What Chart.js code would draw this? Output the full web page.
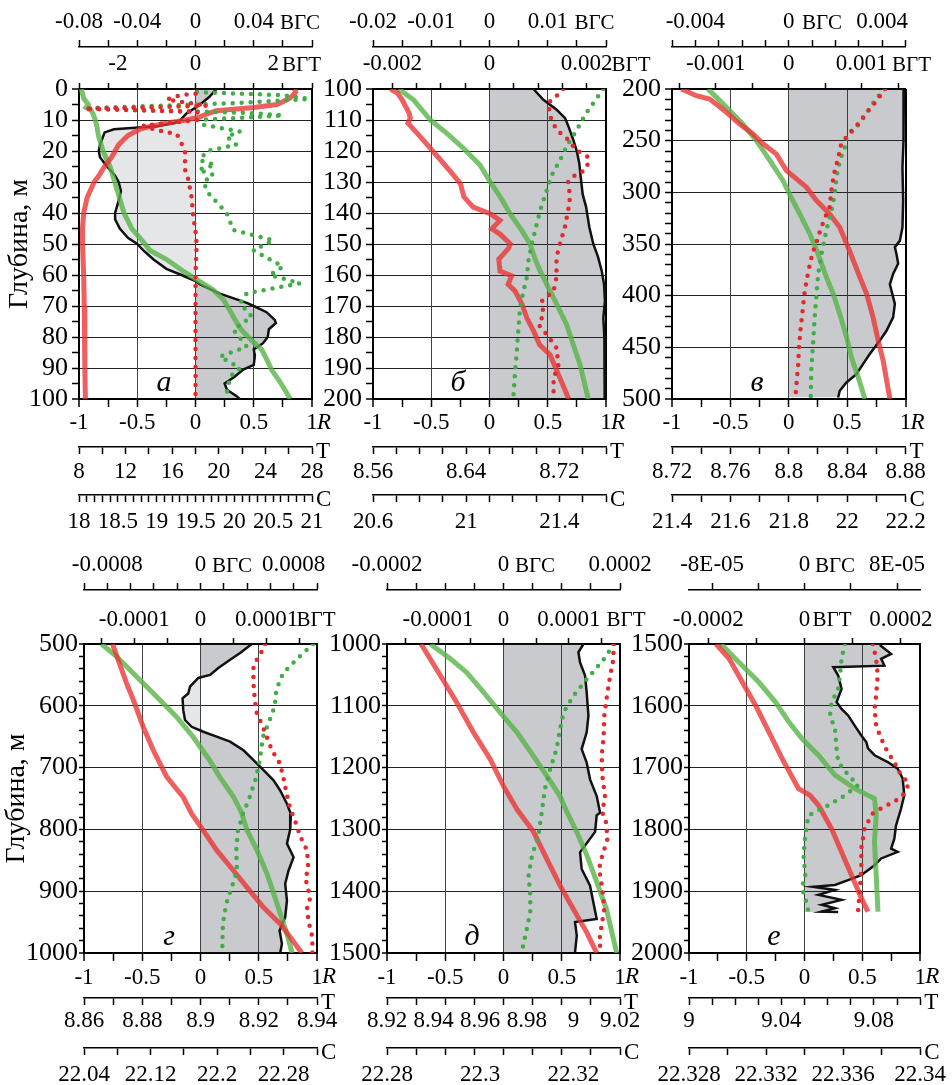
<!DOCTYPE html>
<html>
<head>
<meta charset="utf-8">
<script src="https://cdn.jsdelivr.net/npm/chart.js@4.4.0/dist/chart.umd.min.js"></script>
<style>
  body { margin: 0; background: #fff; }
  #wrap { position: relative; width: 952px; height: 1085px; }
  canvas { position: absolute; left: 0; }
</style>
</head>
<body>
<div id="wrap">
  <canvas id="pa" width="952" height="540" style="top:0"></canvas>
  <canvas id="pb" width="952" height="540" style="top:0"></canvas>
  <canvas id="pv" width="952" height="540" style="top:0"></canvas>
  <canvas id="pg" width="952" height="545" style="top:540px"></canvas>
  <canvas id="pd" width="952" height="545" style="top:540px"></canvas>
  <canvas id="pe" width="952" height="545" style="top:540px"></canvas>
</div>
<script>
// R axis (shared)
const rMarks = [-1, 1, 0.25];
const rLabels = ['-1', '-0.5', '0', '0.5', '1'];

// ---- panel а : 0-100 m, series are [depth, value]
const aDepth = [0, 100, 5, 10];
const aCorr = [[0,0.18],[2.5,0.12],[5,0.04],[8,-0.08],[10,-0.13],[11,-0.18],[12,-0.33],[13,-0.7],[14,-0.78],[16,-0.8],[18,-0.82],[20,-0.83],[22,-0.82],[25,-0.76],[28,-0.69],[30,-0.66],[33,-0.64],[36,-0.66],[40,-0.69],[42,-0.69],[45,-0.65],[48,-0.58],[50,-0.5],[52,-0.45],[55,-0.36],[58,-0.25],[60,-0.12],[62,0],[63,0.04],[66,0.21],[69,0.44],[70,0.5],[72,0.61],[74.5,0.68],[75.5,0.69],[77.5,0.63],[80,0.62],[82,0.58],[84,0.5],[86,0.51],[89,0.5],[90.5,0.41],[93,0.33],[95,0.25],[97,0.27],[99,0.35],[100,0.38]];
const aTemp = [[0,26.5],[1,26.6],[3,26.1],[5,25.0],[6,23.0],[7,19.8],[8,19.0],[9,18.4],[10,17.2],[11,15.5],[12,14.2],[13,13.2],[15,12.2],[18,11.4],[20,11.1],[22,10.8],[25,10.2],[28,9.7],[30,9.3],[35,8.7],[40,8.4],[45,8.3],[50,8.3],[60,8.4],[70,8.45],[80,8.5],[90,8.5],[100,8.55]];
const aSalt = [[0,18.03],[3,18.06],[5,18.12],[6,18.09],[7,18.16],[8,18.18],[10,18.21],[12,18.23],[15,18.25],[20,18.31],[25,18.4],[30,18.46],[35,18.52],[40,18.58],[45,18.68],[50,18.85],[52,18.91],[55,19.13],[58.4,19.32],[61.6,19.52],[64.8,19.73],[68,19.86],[71.3,19.94],[74.5,20.01],[77.7,20.09],[81,20.22],[84,20.35],[87.4,20.42],[90.6,20.48],[93.8,20.57],[97,20.65],[100,20.72]];
const aVGT = [[1.5,0],[2,-0.4],[3.4,-0.74],[5.4,0.3],[6,-1.5],[6.4,-2.85],[6.9,-1.5],[7.4,0.05],[8.5,0],[10,0.05],[11.8,-1.34],[12.5,-1.2],[13.5,-0.9],[14.6,-0.48],[16.5,-0.4],[20,-0.27],[26,-0.27],[29,-0.19],[35,-0.1],[41,-0.06],[46,0],[50,0.03],[60,0],[100,0]];
const aVGS = [[1,0.001],[2,0.06],[3.2,0.078],[4.5,0.03],[5.5,-0.03],[6.2,-0.076],[7,-0.02],[7.8,0.04],[8.5,0.06],[9.3,0.03],[10,0.001],[11.5,0.005],[13.7,0.0306],[15.3,0.0214],[18,0.028],[20,0.0077],[23,0.003],[24.5,0.0134],[26,0.002],[27.7,0.0122],[30,0.0054],[33.6,0.0088],[40,0.0214],[45.5,0.026],[48.8,0.0534],[52,0.0397],[57.3,0.06],[60,0.0511],[62.7,0.0718],[65.9,0.0352],[69.1,0.0306],[73.4,0.0386],[77.7,0.026],[83.1,0.0352],[86.3,0.0168],[90,0.0306],[92.8,0.0237],[99.3,0.021]];
const aScaleVGS = [-0.08, 0.08], aMarksVGS = [-0.08, 0.08, 0.02], aLabelsVGS = ['-0.08', '-0.04', '0', '0.04'];
const aScaleVGT = [-3, 3], aMarksVGT = [-3, 3, 0.75], aLabelsVGT = ['-2', '0', '2'];
const aScaleT = [8, 28], aMarksT = [8, 28, 2], aLabelsT = ['8', '12', '16', '20', '24', '28'];
const aScaleC = [18, 21], aMarksC = [18, 21, 0.1], aLabelsC = ['18', '18.5', '19', '19.5', '20', '20.5', '21'];

// ---- panel б : 100-200 m
const bDepth = [100, 200, 5, 10];
const bCorr = [[100,0.377],[103.5,0.463],[106.7,0.577],[109.4,0.649],[112,0.677],[116.5,0.72],[120,0.749],[124,0.771],[128.4,0.783],[134,0.8],[138,0.829],[144.6,0.857],[150,0.891],[154,0.93],[158.6,0.963],[163,0.983],[168.4,0.991],[173.8,0.977],[180.3,0.986],[186.8,0.991],[200,0.986]];
const bTemp = [[100,8.575],[101.3,8.581],[103.5,8.585],[107.8,8.591],[109.4,8.592],[111,8.59],[114.3,8.598],[118.6,8.608],[122.9,8.618],[127.3,8.628],[130.5,8.635],[134.8,8.638],[138.1,8.646],[140.3,8.661],[142.4,8.669],[145.1,8.662],[146.8,8.669],[150,8.678],[151.6,8.676],[154.9,8.668],[158.7,8.669],[160.3,8.679],[163,8.676],[165.2,8.682],[169.5,8.688],[173.8,8.692],[178.2,8.698],[182.5,8.703],[185.7,8.712],[191.1,8.718],[195.5,8.723],[200,8.728]];
const bSalt = [[100,20.71],[103.5,20.774],[110,20.846],[114.3,20.917],[119.2,20.989],[124.6,21.06],[130,21.103],[134.8,21.146],[140.3,21.189],[145.7,21.239],[150,21.274],[154.9,21.296],[158.7,21.317],[163,21.346],[169.5,21.389],[176,21.431],[185.7,21.474],[189,21.489],[200,21.524]];
const bVGT = [[100,0.00152],[102.2,0.00138],[104.5,0.00121],[108.9,0.00125],[113.2,0.00138],[115.9,0.00159],[119.7,0.00179],[121.9,0.00203],[124,0.00203],[126.2,0.00197],[127.8,0.00176],[130,0.00162],[134.8,0.00166],[139.2,0.00162],[144.6,0.00155],[150,0.00145],[154.3,0.00138],[160.8,0.00138],[165.2,0.00132],[168.4,0.00108],[172.8,0.00111],[176,0.00101],[179.2,0.00118],[183.5,0.00138],[189,0.00142],[193.3,0.00132],[200,0.00132]];
const bVGS = [[100,0.01954],[104.5,0.01783],[108.3,0.0164],[113.2,0.015],[117.5,0.01354],[122.9,0.01211],[127.8,0.01069],[132.7,0.00983],[139.2,0.00869],[145.7,0.00783],[150,0.00726],[155.4,0.00669],[160.8,0.0064],[165.2,0.00583],[170.6,0.00526],[177.1,0.00497],[184.7,0.00469],[191.1,0.0044],[199,0.00411]];
const bScaleVGS = [-0.02, 0.02], bMarksVGS = [-0.02, 0.02, 0.005], bLabelsVGS = ['-0.02', '-0.01', '0', '0.01'];
const bScaleVGT = [-0.0024, 0.0024], bMarksVGT = [-0.002, 0.002, 0.0005], bLabelsVGT = ['-0.002', '0', '0.002'];
const bScaleT = [8.56, 8.76], bMarksT = [8.56, 8.76, 0.02], bLabelsT = ['8.56', '8.64', '8.72'];
const bScaleC = [20.6, 21.6], bMarksC = [20.6, 21.6, 0.1], bLabelsC = ['20.6', '21', '21.4'];

// ---- panel в : 200-500 m
const vDepth = [200, 500, 10, 50];
const vCorr = [[200,0.986],[227,0.98],[250,0.986],[276,0.974],[308,0.98],[334,0.974],[347,0.951],[353,0.909],[360,0.923],[369,0.937],[379,0.894],[389,0.866],[408,0.909],[421,0.894],[434,0.837],[443.5,0.78],[456.5,0.694],[466,0.637],[476,0.58],[484,0.494],[492,0.437],[498.5,0.423]];
const vTemp = [[200,8.7264],[206.5,8.7367],[209.7,8.7458],[216,8.7515],[222.6,8.7573],[234,8.7664],[243.5,8.7755],[253,8.7824],[263,8.7915],[279,8.7984],[287,8.8053],[295,8.8121],[308,8.819],[321,8.8281],[334,8.835],[357,8.8418],[382,8.8487],[398,8.8533],[421,8.8578],[443.5,8.8613],[463,8.8647],[500,8.8693]];
const vSalt = [[200,21.523],[211,21.563],[221,21.598],[234,21.643],[250,21.689],[269,21.735],[289,21.781],[302,21.803],[321,21.838],[340,21.872],[358,21.898],[382,21.929],[398,21.952],[418,21.975],[440,21.998],[460,22.015],[479,22.038],[500,22.061]];
const vVGT = [[200,0.00132],[211,0.00121],[222.6,0.00107],[235.5,0.00093],[243.5,0.00082],[253,0.00072],[266,0.00068],[279,0.00063],[295,0.00059],[314.5,0.00056],[324,0.0005],[337,0.00043],[353,0.00036],[357,0.00033],[376,0.00027],[395,0.00022],[414.5,0.00019],[434,0.00016],[450,0.00014],[466,0.00013],[482,0.00011],[498.5,0.00009]];
const vVGS = [[200,0.00411],[211,0.00369],[226,0.00326],[237,0.0029],[247,0.00247],[256.5,0.0024],[269.4,0.00219],[285.5,0.00204],[301.6,0.00197],[317.7,0.00183],[337,0.00161],[359.7,0.0014],[379,0.00126],[398,0.00119],[421,0.00111],[447,0.00104],[469,0.00097],[498.5,0.00094]];
const vScaleVGS = [-0.005, 0.005], vMarksVGS = [-0.005, 0.005, 0.001], vLabelsVGS = ['-0.004', '0', '0.004'];
const vScaleVGT = [-0.0016, 0.0016], vMarksVGT = [-0.0015, 0.0015, 0.0005], vLabelsVGT = ['-0.001', '0', '0.001'];
const vScaleT = [8.72, 8.88], vMarksT = [8.72, 8.88, 0.02], vLabelsT = ['8.72', '8.76', '8.8', '8.84', '8.88'];
const vScaleC = [21.4, 22.2], vMarksC = [21.4, 22.2, 0.1], vLabelsC = ['21.4', '21.6', '21.8', '22', '22.2'];

// ---- panel г : 500-1000 m
const gDepth = [500, 1000, 20, 100];
const gCorr = [[500,0.44],[514.6,0.34],[525.5,0.254],[539,0.153],[550,0.082],[555,-0.019],[569,-0.09],[580,-0.105],[588,-0.154],[607,-0.148],[623,-0.133],[634,-0.076],[642,0.024],[650,0.139],[658,0.254],[672,0.369],[688,0.455],[704,0.541],[720.6,0.627],[737,0.684],[758.5,0.742],[775,0.776],[800,0.77],[823,0.742],[845,0.799],[866.5,0.756],[888,0.727],[915,0.742],[942,0.727],[964,0.679],[985,0.699],[1000,0.684]];
const gTemp = [[500,8.8698],[525.5,8.8717],[563.4,8.8746],[596,8.8774],[634,8.8803],[672,8.8838],[715,8.8884],[748,8.8941],[775,8.897],[802,8.901],[834,8.9056],[866.5,8.9113],[893.5,8.9159],[926,8.9216],[953,8.9274],[974.6,8.9308],[1000,8.9348]];
const gSalt = [[500,22.061],[520,22.079],[552.6,22.103],[585,22.127],[617.6,22.151],[650,22.171],[688,22.191],[715,22.203],[748,22.22],[772,22.229],[801.6,22.236],[834,22.248],[872,22.26],[904,22.268],[937,22.276],[969,22.284],[1000,22.29]];
const gVGT = [[500,9.75e-5],[509,9.5e-5],[520,8.7e-5],[539,8.0e-5],[563,8.0e-5],[590.5,8.2e-5],[612,8.5e-5],[628.5,9.2e-5],[650,1.0e-4],[672,1.08e-4],[693.5,1.2e-4],[715,1.25e-4],[742,1.3e-4],[769,1.36e-4],[780,1.41e-4],[812,1.51e-4],[834,1.61e-4],[866.5,1.63e-4],[877,1.58e-4],[899,1.63e-4],[910,1.66e-4],[926,1.61e-4],[947.6,1.63e-4],[974.6,1.69e-4],[1000,1.69e-4]];
const gVGS = [[500,9.67e-4],[520,8.52e-4],[547,7.09e-4],[574,6.51e-4],[601,6.37e-4],[623,5.94e-4],[650,5.37e-4],[688,5.08e-4],[715,4.79e-4],[748,4.22e-4],[772,3.7e-4],[802,3.21e-4],[834,3.07e-4],[866.5,3.13e-4],[888,2.78e-4],[920.5,2.21e-4],[953,1.92e-4],[1000,1.86e-4]];
const gScaleVGS = [-0.001, 0.001], gMarksVGS = [-0.001, 0.001, 0.0002], gLabelsVGS = ['-0.0008', '0', '0.0008'];
const gScaleVGT = [-0.000176, 0.000176], gMarksVGT = [-0.00015, 0.00015, 0.00005], gLabelsVGT = ['-0.0001', '0', '0.0001'];
const gScaleT = [8.86, 8.94], gMarksT = [8.86, 8.94, 0.01], gLabelsT = ['8.86', '8.88', '8.9', '8.92', '8.94'];
const gScaleC = [22.04, 22.32], gMarksC = [22.04, 22.32, 0.04], gLabelsC = ['22.04', '22.12', '22.2', '22.28'];

// ---- panel д : 1000-1500 m
const dDepth = [1000, 1500, 20, 100];
const dCorr = [[1000,0.686],[1013.5,0.643],[1030,0.657],[1051,0.7],[1078,0.714],[1116,0.729],[1143,0.714],[1170,0.671],[1192,0.714],[1219,0.743],[1246,0.8],[1273,0.829],[1277,0.8],[1304,0.786],[1337,0.657],[1364,0.671],[1391,0.743],[1418,0.771],[1445,0.8],[1450,0.614],[1472,0.629],[1499,0.614]];
const dTemp = [[1000,8.9346],[1051,8.9429],[1095,8.95],[1143,8.9571],[1186.5,8.9643],[1230,8.97],[1267,8.9757],[1304,8.9829],[1348,8.9886],[1391,8.9943],[1429,9.0],[1466.5,9.0057],[1500,9.01]];
const dSalt = [[1000,22.2893],[1024,22.2936],[1046,22.2971],[1078,22.3007],[1111,22.3043],[1143,22.3079],[1181,22.3114],[1213.5,22.3143],[1246,22.3171],[1270,22.3185],[1304,22.3207],[1342,22.3229],[1385,22.325],[1429,22.3271],[1500,22.3293]];
const dVGT = [[1000,1.69e-4],[1030,1.67e-4],[1051,1.63e-4],[1084,1.58e-4],[1116,1.54e-4],[1149,1.53e-4],[1181,1.5e-4],[1213.5,1.51e-4],[1246,1.55e-4],[1273,1.51e-4],[1283,1.56e-4],[1315,1.59e-4],[1342,1.51e-4],[1364,1.46e-4],[1396,1.51e-4],[1429,1.54e-4],[1461,1.49e-4],[1483,1.46e-4],[1500,1.51e-4]];
const dVGS = [[1000,1.886e-4],[1019,1.77e-4],[1035,1.63e-4],[1057,1.43e-4],[1084,1.2e-4],[1111,1.03e-4],[1138,9.7e-5],[1170,9.1e-5],[1203,8.0e-5],[1235,7.1e-5],[1270,6.6e-5],[1310,6.0e-5],[1342,4.9e-5],[1375,4.3e-5],[1407,4.6e-5],[1434,4.6e-5],[1461,4.0e-5],[1500,3.1e-5]];
const dScaleVGS = [-0.0002, 0.0002], dMarksVGS = [-0.0002, 0.0002, 0.00005], dLabelsVGS = ['-0.0002', '0', '0.0002'];
const dScaleVGT = [-0.000178, 0.000178], dMarksVGT = [-0.00015, 0.00015, 0.00005], dLabelsVGT = ['-0.0001', '0', '0.0001'];
const dScaleT = [8.92, 9.02], dMarksT = [8.92, 9.02, 0.0125], dLabelsT = ['8.92', '8.94', '8.96', '8.98', '9', '9.02'];
const dScaleC = [22.28, 22.33], dMarksC = [22.28, 22.33, 0.00625], dLabelsC = ['22.28', '22.3', '22.32'];

// ---- panel е : 1500-2000 m
const eDepth = [1500, 2000, 20, 100];
const eCorr = [[1501.6,0.651],[1516,0.749],[1524,0.663],[1535,0.691],[1537.6,0.249],[1551,0.291],[1572.6,0.32],[1594,0.277],[1605,0.32],[1615.6,0.377],[1632,0.434],[1648,0.491],[1658.6,0.534],[1669,0.549],[1680,0.606],[1691,0.72],[1701.6,0.806],[1717.7,0.849],[1744.6,0.863],[1767,0.834],[1794,0.791],[1815,0.777],[1831,0.749],[1836.5,0.806],[1847,0.663],[1858,0.606],[1874,0.491],[1882,0.377],[1890,0.263],[1892.8,0.077],[1898,0.263],[1906,0.12],[1914,0.32],[1922,0.149],[1927.6,0.263],[1933,0.149],[1933.5,0.291]];
const eTemp = [[1500,9.0117],[1524,9.0174],[1562,9.0231],[1600,9.0289],[1642.5,9.0346],[1685.5,9.0403],[1734,9.0474],[1745,9.0524],[1761,9.056],[1770,9.0574],[1799,9.0617],[1836.5,9.066],[1874,9.0703],[1911.5,9.0746],[1933,9.0774]];
const eSalt = [[1500,22.32966],[1530,22.3306],[1562,22.33163],[1594,22.33249],[1626,22.33318],[1653,22.33386],[1680,22.33472],[1712,22.33558],[1734,22.33661],[1750,22.33763],[1777,22.33772],[1820,22.33763],[1874,22.33772],[1933,22.33781]];
const eVGT = [[1500,1.418e-4],[1524,1.486e-4],[1551,1.52e-4],[1583,1.486e-4],[1605,1.452e-4],[1632,1.486e-4],[1653,1.589e-4],[1675,1.726e-4],[1691,1.863e-4],[1712,2.0e-4],[1726,2.171e-4],[1745,2.034e-4],[1755,1.863e-4],[1766,1.589e-4],[1775,1.4e-4],[1799,1.247e-4],[1831,1.178e-4],[1863,1.178e-4],[1901,1.144e-4],[1933,1.11e-4]];
const eVGS = [[1500,3.49e-5],[1524,3.2e-5],[1551,3.06e-5],[1573,2.91e-5],[1594,2.34e-5],[1616,2.2e-5],[1637,2.63e-5],[1669,2.77e-5],[1691,2.91e-5],[1712,3.77e-5],[1728.5,4.63e-5],[1745,3.49e-5],[1761,2.06e-5],[1771.5,9.1e-6],[1777.5,3.4e-6],[1810,0.6e-6],[1842,-0.9e-6],[1874,0.6e-6],[1895,-2.3e-6],[1911.5,0.6e-6],[1933,3.4e-6]];
const eScaleVGS = [-0.0001, 0.0001], eMarksVGS = [-0.00008, 0.00008, 0.00004], eLabelsVGS = ['-8E-05', '0', '8E-05'];
const eScaleVGT = [-0.00024, 0.00024], eMarksVGT = [-0.0002, 0.0002, 0.0001], eLabelsVGT = ['-0.0002', '0', '0.0002'];
const eScaleT = [9, 9.1], eMarksT = [9, 9.1, 0.01], eLabelsT = ['9', '9.04', '9.08'];
const eScaleC = [22.328, 22.34], eMarksC = [22.328, 22.34, 0.002], eLabelsC = ['22.328', '22.332', '22.336', '22.34'];

Chart.defaults.font.family = '"Liberation Serif", "Times New Roman", serif';
Chart.defaults.color = '#000';
const FONT_X = { size: 23, lineHeight: 1.2 };
const FONT_Y = { size: 26, lineHeight: 1.2 };

// axis box heights [ВГС, ВГТ, R, T, C] and label paddings
const topRow = { h: [47, 42, 48, 48, 45], pad: [4, 5, 2, 4, 6], yTick: 7, yPad: 4 };
const bottomRow = { h: [50, 54, 45, 50, 37], pad: [4, 4, 3, 2, 6], yTick: 5, yPad: 1 };

const dotRed = { borderColor: '#e4282b', borderWidth: 4.5, borderDash: [0, 9], borderCapStyle: 'round', borderJoinStyle: 'round' };
const dotGreen = Object.assign({}, dotRed, { borderColor: '#40ad47' });
const lineRed = { borderColor: 'rgba(234, 50, 50, 0.78)', borderWidth: 5 };
const lineGreen = { borderColor: 'rgba(88, 180, 72, 0.8)', borderWidth: 5 };
const lineBlack = { borderColor: '#111', borderWidth: 2.5 };
const fillDark = { borderColor: 'rgba(0,0,0,0)', borderWidth: 0, backgroundColor: 'rgba(45, 50, 60, 0.26)', fill: { value: 0 } };
const fillLight = Object.assign({}, fillDark, { backgroundColor: 'rgba(45, 50, 60, 0.12)' });

function steps(m) {
  const n = Math.round((m[1] - m[0]) / m[2]);
  const out = [];
  for (let i = 0; i <= n; i++) out.push(m[0] + i * m[2]);
  return out;
}

// secondary axis: tick marks on "marks", labels only where listed
function sideAxis(position, weight, range, marks, labels, height, tick, pad) {
  const mv = steps(marks);
  const lv = labels.map(Number);
  const eps = marks[2] / 1000;
  const near = (a, b) => Math.abs(a - b) < eps;
  const values = mv.concat(lv.filter(v => !mv.some(m => near(m, v)))).sort((a, b) => a - b);
  return {
    type: 'linear', axis: 'x', position, weight, min: range[0], max: range[1],
    afterBuildTicks: s => { s.ticks = values.map(v => ({ value: v })); },
    afterFit: s => { s.height = height; },
    border: { color: '#000', width: position === 'top' && weight === 1 ? 2 : 1.5 },
    grid: {
      drawOnChartArea: false, tickLength: tick, tickWidth: 1.5,
      tickColor: c => (c.tick && mv.some(m => near(m, c.tick.value))) ? '#000' : 'rgba(0,0,0,0)'
    },
    ticks: {
      autoSkip: false, maxRotation: 0, padding: pad, font: FONT_X,
      callback: v => { const i = lv.findIndex(l => near(l, v)); return i < 0 ? '' : labels[i]; }
    }
  };
}

function rAxis(height, pad) {
  const vals = steps(rMarks);
  const isLabel = v => rLabels.includes(String(v));
  return {
    type: 'linear', axis: 'x', position: 'bottom', weight: 0, min: rMarks[0], max: rMarks[1],
    afterBuildTicks: s => { s.ticks = vals.map(v => ({ value: v })); },
    afterFit: s => { s.height = height; },
    border: { color: '#000', width: 2 },
    grid: {
      tickLength: 8, tickWidth: 1.5, tickColor: '#000',
      color: c => !c.tick || Math.abs(c.tick.value) === 1 ? '#000' : isLabel(c.tick.value) ? '#444' : 'rgba(0,0,0,0)',
      lineWidth: c => c.tick && Math.abs(c.tick.value) === 1 ? 2 : 1
    },
    ticks: { autoSkip: false, maxRotation: 0, padding: pad, font: FONT_X, callback: v => isLabel(v) ? String(v) : '' }
  };
}

function depthAxis(d, width, tick, pad, title, titlePad) {
  const vals = steps([d[0], d[1], d[2]]);
  return {
    type: 'linear', axis: 'y', position: 'left', reverse: true, min: d[0], max: d[1],
    afterBuildTicks: s => { s.ticks = vals.map(v => ({ value: v })); },
    afterFit: s => { s.width = width; },
    border: { color: '#000', width: 2 },
    grid: {
      tickLength: tick, tickWidth: 1.5, tickColor: '#000',
      color: c => (c.tick && c.tick.value % d[3] === 0) ? '#222' : 'rgba(0,0,0,0)',
      lineWidth: c => (c.tick && (c.tick.value === d[0] || c.tick.value === d[1])) ? 2 : 1
    },
    ticks: { autoSkip: false, padding: pad, font: FONT_Y, callback: v => v % d[3] === 0 ? String(v) : '' },
    title: { display: !!title, text: title || '', font: { size: 28 }, padding: { top: titlePad || 0, bottom: 0 } }
  };
}

// axis names, letters and the R after "1"
const extraText = {
  id: 'extraText',
  afterDraw(chart, args, o) {
    const { ctx, chartArea: a, scales: s } = chart;
    ctx.save();
    ctx.fillStyle = '#000';
    ctx.textBaseline = 'middle';
    ctx.textAlign = 'left';
    ctx.font = 'italic 23px "Liberation Serif"';
    ctx.fillText('R', a.right + 5, s.x.top + 24);
    ctx.font = '23px "Liberation Serif"';
    ctx.fillText('Т', a.right + 4, s.xT.top + 5);
    ctx.fillText('С', a.right + 4, s.xC.top + 5);
    ctx.textAlign = 'center';
    ctx.font = '21px "Liberation Serif"';
    ctx.fillText('ВГС', o.sx, s.xS.bottom - 24);
    ctx.fillText('ВГТ', o.tx, s.xG.bottom - 24);
    ctx.font = 'italic 30px "Liberation Serif"';
    ctx.fillText(o.letter, a.left + 85, a.bottom - 16);
    ctx.restore();
  }
};

function makePanel(id, row, p) {
  const ds = (pairs, axis, style) => Object.assign({
    data: pairs.map(q => ({ x: q[1], y: q[0] })), xAxisID: axis, pointRadius: 0, fill: false, tension: 0
  }, style);
  const pos = p.corr.map(q => [q[0], Math.max(q[1], 0)]);
  const neg = p.corr.map(q => [q[0], Math.min(q[1], 0)]);
  new Chart(document.getElementById(id), {
    type: 'line',
    data: {
      datasets: [
        ds(p.vgt, 'xG', dotRed),
        ds(p.vgs, 'xS', dotGreen),
        ds(p.temp, 'xT', lineRed),
        ds(p.salt, 'xC', lineGreen),
        ds(p.corr, 'x', lineBlack),
        ds(pos, 'x', fillDark),
        ds(neg, 'x', fillLight)
      ]
    },
    options: {
      indexAxis: 'y', responsive: false, animation: false, events: [],
      layout: { padding: { left: p.left - p.yw, right: 952 - p.right, top: 0, bottom: 0 } },
      plugins: {
        legend: { display: false }, tooltip: { enabled: false },
        extraText: { letter: p.letter, sx: p.sx, tx: p.tx }
      },
      scales: {
        y: depthAxis(p.depth, p.yw, row.yTick, row.yPad, p.title, p.titlePad),
        x: rAxis(row.h[2], row.pad[2]),
        xT: sideAxis('bottom', 1, p.T[0], p.T[1], p.T[2], row.h[3], 7, row.pad[3]),
        xC: sideAxis('bottom', 2, p.C[0], p.C[1], p.C[2], row.h[4], 7, row.pad[4]),
        xG: sideAxis('top', 1, p.G[0], p.G[1], p.G[2], row.h[1], 6, row.pad[1]),
        xS: sideAxis('top', 2, p.S[0], p.S[1], p.S[2], row.h[0], 7, row.pad[0])
      }
    },
    plugins: [extraText]
  });
}

makePanel('pa', topRow, {
  left: 79, right: 312, yw: 79, title: 'Глубина, м', titlePad: 3, letter: 'а', sx: 300, tx: 301.5,
  depth: aDepth, corr: aCorr, temp: aTemp, salt: aSalt, vgt: aVGT, vgs: aVGS,
  S: [aScaleVGS, aMarksVGS, aLabelsVGS], G: [aScaleVGT, aMarksVGT, aLabelsVGT],
  T: [aScaleT, aMarksT, aLabelsT], C: [aScaleC, aMarksC, aLabelsC]
});
makePanel('pb', topRow, {
  left: 373, right: 606, yw: 60, letter: 'б', sx: 594.5, tx: 631,
  depth: bDepth, corr: bCorr, temp: bTemp, salt: bSalt, vgt: bVGT, vgs: bVGS,
  S: [bScaleVGS, bMarksVGS, bLabelsVGS], G: [bScaleVGT, bMarksVGT, bLabelsVGT],
  T: [bScaleT, bMarksT, bLabelsT], C: [bScaleC, bMarksC, bLabelsC]
});
makePanel('pv', topRow, {
  left: 672, right: 905.5, yw: 60, letter: 'в', sx: 822, tx: 911.5,
  depth: vDepth, corr: vCorr, temp: vTemp, salt: vSalt, vgt: vVGT, vgs: vVGS,
  S: [vScaleVGS, vMarksVGS, vLabelsVGS], G: [vScaleVGT, vMarksVGT, vLabelsVGT],
  T: [vScaleT, vMarksT, vLabelsT], C: [vScaleC, vMarksC, vLabelsC]
});
makePanel('pg', bottomRow, {
  left: 84, right: 317, yw: 84, title: 'Глубина, м', titlePad: 0, letter: 'г', sx: 232, tx: 316,
  depth: gDepth, corr: gCorr, temp: gTemp, salt: gSalt, vgt: gVGT, vgs: gVGS,
  S: [gScaleVGS, gMarksVGS, gLabelsVGS], G: [gScaleVGT, gMarksVGT, gLabelsVGT],
  T: [gScaleT, gMarksT, gLabelsT], C: [gScaleC, gMarksC, gLabelsC]
});
makePanel('pd', bottomRow, {
  left: 387, right: 620, yw: 60, letter: 'д', sx: 535, tx: 626,
  depth: dDepth, corr: dCorr, temp: dTemp, salt: dSalt, vgt: dVGT, vgs: dVGS,
  S: [dScaleVGS, dMarksVGS, dLabelsVGS], G: [dScaleVGT, dMarksVGT, dLabelsVGT],
  T: [dScaleT, dMarksT, dLabelsT], C: [dScaleC, dMarksC, dLabelsC]
});
makePanel('pe', bottomRow, {
  left: 689, right: 922.5, yw: 60, letter: 'е', sx: 835, tx: 832,
  depth: eDepth, corr: eCorr, temp: eTemp, salt: eSalt, vgt: eVGT, vgs: eVGS,
  S: [eScaleVGS, eMarksVGS, eLabelsVGS], G: [eScaleVGT, eMarksVGT, eLabelsVGT],
  T: [eScaleT, eMarksT, eLabelsT], C: [eScaleC, eMarksC, eLabelsC]
});
</script>
</body>
</html>
